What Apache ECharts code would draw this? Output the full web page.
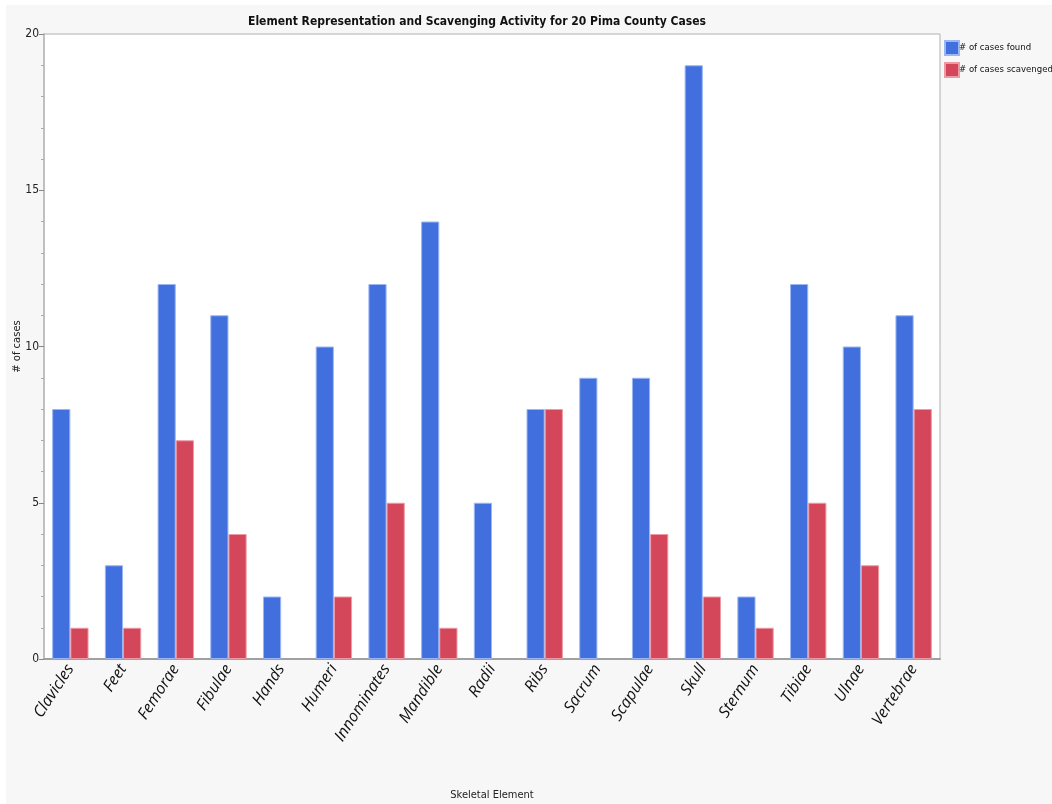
<!DOCTYPE html>
<html><head><meta charset="utf-8">
<script src="https://cdn.jsdelivr.net/npm/echarts@6/dist/echarts.min.js"></script>
<style>
html,body{margin:0;padding:0;background:#ffffff;}
#c{position:absolute;left:6px;top:5px;width:1046px;height:799px;background:#f7f7f7;}
</style></head><body>
<div id="c"></div>
<script>
const categories = ['Clavicles','Feet','Femorae','Fibulae','Hands','Humeri','Innominates','Mandible','Radii','Ribs','Sacrum','Scapulae','Skull','Sternum','Tibiae','Ulnae','Vertebrae'];
const casesFound = [8,3,12,11,2,10,12,14,5,8,9,9,19,2,12,10,11];
const casesScavenged = [1,1,7,4,0,2,5,1,0,8,0,4,2,1,5,3,8];
const seriesNames = ['# of cases found','# of cases scavenged'];

const chart = echarts.init(document.getElementById('c'));
const cond = "'Liberation Sans Narrow','DejaVu Sans Condensed',sans-serif";
const hideZero = arr => arr.map(v => v === 0 ? '-' : v);
chart.setOption({
  backgroundColor: '#f7f7f7',
  animation: false,
  title: {
    text: 'Element Representation and Scavenging Activity for 20 Pima County Cases',
    left: 466, top: 6, textAlign: 'center',
    textStyle: {fontFamily: cond, fontWeight: 'bold', fontSize: 12, color: '#111'}
  },
  legend: {
    orient: 'vertical', left: 933, top: 30, itemWidth: 14, itemHeight: 14, itemGap: 6,
    icon: 'rect', textStyle: {fontFamily: cond, fontSize: 9.5, color: '#111', padding: [0,0,0,-5]},
    data: seriesNames
  },
  grid: {left: 38, top: 29, right: 112, bottom: 145, outerBoundsMode: 'none', containLabel: false,
    show: true, backgroundColor: '#ffffff', borderColor: '#b0b0b0', borderWidth: 1},
  xAxis: {
    type: 'category', data: categories,
    name: 'Skeletal Element', nameLocation: 'middle', nameGap: 131, nameMoveOverlap: false,
    nameTextStyle: {fontFamily: cond, fontSize: 11, color: '#222'},
    axisLine: {lineStyle: {color: '#a0a0a0', width: 2}},
    axisTick: {show: false},
    axisLabel: {rotate: 57, fontSize: 16, fontStyle: 'italic', color: '#111', fontFamily: "'Open Sans',sans-serif", margin: 7, interval: 0}
  },
  yAxis: {
    type: 'value', min: 0, max: 20, interval: 5,
    name: '# of cases', nameLocation: 'middle', nameGap: 22, nameMoveOverlap: false,
    nameTextStyle: {fontFamily: "'DejaVu Sans',sans-serif", fontSize: 10, color: '#222'},
    axisLine: {show: true, lineStyle: {color: '#c0c0c0', width: 2}},
    axisTick: {show: true, length: 5, lineStyle: {color: '#888'}},
    minorTick: {show: true, splitNumber: 5, length: 3, lineStyle: {color: '#aaa'}},
    splitLine: {show: false},
    axisLabel: {fontFamily: cond, fontSize: 12, color: '#222', margin: 5}
  },
  series: [
    {name: seriesNames[0], type: 'bar', data: hideZero(casesFound), barGap: '0%', barCategoryGap: '31%',
     itemStyle: {color: '#4170de', borderColor: '#9bb6f2', borderWidth: 1}},
    {name: seriesNames[1], type: 'bar', data: hideZero(casesScavenged),
     itemStyle: {color: '#d4475a', borderColor: '#ec9aa5', borderWidth: 1}}
  ]
});
</script>
</body></html>
